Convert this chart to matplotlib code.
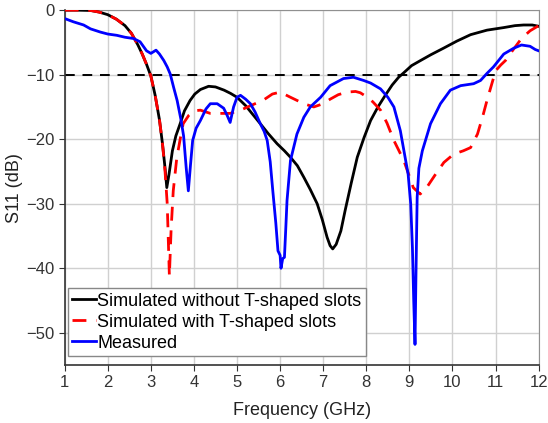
import numpy as np
import matplotlib.pyplot as plt

plt.rcParams['font.family'] = ['Liberation Sans', 'DejaVu Sans']

# simulated without T-shaped slots
f_sim1 = [1.0, 1.3, 1.6, 1.8, 2.0, 2.2, 2.4, 2.55, 2.7, 2.8, 2.9, 3.0, 3.1, 3.2,
          3.27, 3.33, 3.37, 3.42, 3.5, 3.58, 3.68, 3.78, 3.91, 4.02, 4.15, 4.34,
          4.5, 4.7, 4.85, 5.0, 5.2, 5.37, 5.54, 5.72, 5.93, 6.1, 6.24, 6.4, 6.55,
          6.7, 6.86, 6.98, 7.09, 7.16, 7.22, 7.3, 7.41, 7.51, 7.65, 7.79, 7.95,
          8.1, 8.27, 8.44, 8.6, 8.75, 8.87, 9.05, 9.26, 9.5, 9.79, 10.1, 10.42,
          10.8, 11.19, 11.45, 11.65, 11.85, 12.0]
s_sim1 = [0.0, 0.0, -0.05, -0.3, -0.7, -1.4, -2.4, -3.6, -5.4, -6.8, -8.4, -10.2,
          -13.2, -17.0, -20.7, -24.5, -27.5, -25.5, -21.8, -19.5, -17.6, -15.6, -14.0,
          -13.0, -12.3, -11.8, -11.9, -12.4, -12.9, -13.5, -14.8, -16.2, -17.6, -19.1,
          -20.7, -21.8, -22.8, -24.1, -25.9, -27.8, -30.0, -32.5, -35.2, -36.5, -37.0,
          -36.3, -34.2, -31.0, -26.8, -22.8, -19.7, -17.1, -15.0, -13.2, -11.6, -10.4,
          -9.7, -8.6, -7.8, -6.9, -5.9, -4.8, -3.8, -3.1, -2.7, -2.4, -2.3, -2.3, -2.5]

# simulated with T-shaped slots
f_sim2 = [1.0, 1.3, 1.6, 1.8, 2.0, 2.2, 2.4, 2.55, 2.7, 2.8, 2.9, 3.0, 3.1, 3.2,
          3.27, 3.33, 3.38, 3.43, 3.47, 3.52, 3.6, 3.68, 3.75, 3.88, 4.0, 4.15,
          4.38, 4.6, 4.84, 5.08, 5.35, 5.62, 5.82, 6.0, 6.24, 6.55, 6.78, 7.0,
          7.16, 7.35, 7.55, 7.75, 7.86, 8.0, 8.15, 8.33, 8.48, 8.64, 8.87, 9.09,
          9.25, 9.4, 9.6, 9.8, 10.03, 10.25, 10.42, 10.58, 10.7, 10.8, 10.9,
          11.0, 11.12, 11.23, 11.4, 11.6, 11.8, 12.0]
s_sim2 = [0.0, 0.0, -0.05, -0.3, -0.7, -1.4, -2.4, -3.6, -5.4, -6.8, -8.4, -10.2,
          -13.2, -17.0, -20.7, -25.0, -30.0, -41.2, -34.0, -28.0, -23.0, -20.0, -17.6,
          -16.3, -15.6, -15.5, -16.0, -16.0, -16.0, -15.5, -14.7, -13.9, -13.0, -12.7,
          -13.5, -14.5, -15.0, -14.5, -13.8, -13.1, -12.7, -12.6, -12.8, -13.4, -14.2,
          -15.5, -17.5, -20.2, -23.3, -27.5, -28.5, -27.5, -25.5, -23.6, -22.3, -21.8,
          -21.3, -19.2, -16.5, -14.0, -11.7, -9.4, -8.5, -7.8, -6.2, -4.4, -3.2, -2.4]

# measured
f_meas = [1.0, 1.2, 1.44, 1.6, 1.83, 2.0, 2.21, 2.4, 2.6, 2.75, 2.9, 3.0, 3.12,
          3.2, 3.3, 3.38, 3.45, 3.53, 3.61, 3.7, 3.76, 3.82, 3.87, 3.92, 3.97,
          4.05, 4.15, 4.28, 4.38, 4.54, 4.69, 4.77, 4.84, 4.92, 5.0, 5.08, 5.2,
          5.31, 5.42, 5.54, 5.63, 5.7, 5.77, 5.83, 5.9, 5.95, 6.0, 6.02, 6.06,
          6.1, 6.13, 6.16, 6.24, 6.39, 6.55, 6.7, 6.94, 7.16, 7.47, 7.7, 7.94,
          8.1, 8.33, 8.5, 8.64, 8.79, 8.9, 8.97, 9.03, 9.07, 9.1, 9.13, 9.15,
          9.18, 9.22, 9.3, 9.49, 9.72, 9.95, 10.19, 10.49, 10.65, 10.8, 10.95,
          11.19, 11.42, 11.6, 11.8, 11.92, 12.0]
s_meas = [-1.3, -1.8, -2.3, -2.9, -3.4, -3.7, -3.9, -4.2, -4.4, -4.9, -6.3, -6.7,
          -6.2, -6.8, -7.8, -8.8, -9.9, -12.0, -14.0, -17.0, -19.5, -24.4, -28.0,
          -24.0, -20.2, -18.3, -17.1, -15.3, -14.5, -14.5, -15.2, -16.3, -17.4, -15.0,
          -13.5, -13.2, -13.8, -14.5, -15.8, -17.6, -18.8, -20.2, -23.5, -28.0, -33.0,
          -37.3, -38.0, -40.0, -38.5, -38.3, -34.0, -29.5, -23.3, -19.2, -16.6, -15.0,
          -13.5, -11.7, -10.6, -10.4, -10.9, -11.3, -12.2, -13.5, -15.0, -18.7, -22.8,
          -25.4, -30.0, -36.8, -45.0, -51.8, -42.0, -29.0, -24.5, -21.8, -17.6, -14.5,
          -12.4, -11.7, -11.4, -10.9, -9.8, -8.8, -6.8, -5.9, -5.4, -5.6, -6.1, -6.3]

fig, ax = plt.subplots(figsize=(5.48, 4.23), dpi=100)
fig.subplots_adjust(left=0.118, right=0.983, top=0.976, bottom=0.137)

ax.axhline(-10, color='k', lw=1.4, ls=(0, (5, 4)), zorder=2)
ax.plot(f_sim1, s_sim1, color='k', lw=2, label='Simulated without T-shaped slots', zorder=3)
ax.plot(f_sim2, s_sim2, color='#ff0000', lw=2, ls=(0, (5, 3.5)),
        label='Simulated with T-shaped slots', zorder=4)
ax.plot(f_meas, s_meas, color='#0000ff', lw=2, label='Measured', zorder=5)

ax.set_xlim(1, 12)
ax.set_ylim(-55, 0)
ax.set_xticks(np.arange(1, 13, 1))
ax.set_yticks([0, -10, -20, -30, -40, -50])
ax.grid(True, color='#d0d0d0', lw=1)
ax.set_axisbelow(True)

for s in ['top', 'right']:
    ax.spines[s].set_color('#909090')
for s in ['bottom', 'left']:
    ax.spines[s].set_color('#333333')
    ax.spines[s].set_linewidth(1.2)
ax.tick_params(labelsize=12, colors='#333333', length=4)
ax.set_xlabel('Frequency (GHz)', fontsize=13, color='#222222', labelpad=8)
ax.set_ylabel('S11 (dB)', fontsize=13, color='#222222', labelpad=2)

leg = ax.legend(loc='lower left', bbox_to_anchor=(0.006, 0.025), borderaxespad=0,
                fontsize=13, handlelength=1.35, handletextpad=0.05,
                borderpad=0.25, labelspacing=0.22, fancybox=False, framealpha=1,
                edgecolor='#888888')
leg.get_frame().set_linewidth(1)

plt.savefig('out.png', dpi=100)
